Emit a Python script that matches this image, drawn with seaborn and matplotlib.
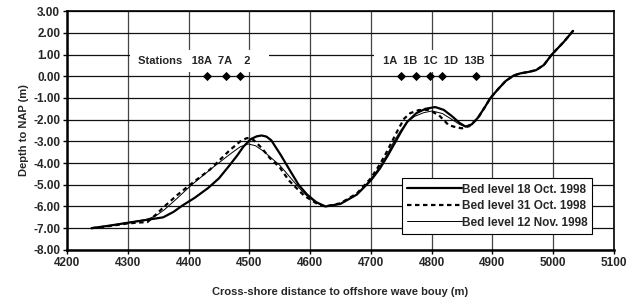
import matplotlib
matplotlib.use("Agg")
import matplotlib.pyplot as plt
import seaborn as sns
import numpy as np

# ---------------- data ----------------
common_x = [4897, 4910, 4922, 4935, 4946, 4960, 4972, 4985, 4998, 5018, 5033]
common_y = [-1.0, -0.58, -0.22, 0.03, 0.13, 0.2, 0.28, 0.52, 1.0, 1.59, 2.09]

oct18_x = [4240, 4270, 4300, 4330, 4358, 4375, 4390, 4410, 4432, 4450, 4466, 4480,
           4490, 4502, 4512, 4520, 4528, 4536, 4551, 4567, 4581, 4595, 4610, 4625,
           4650, 4677, 4700, 4715, 4728, 4740, 4750, 4760, 4775, 4790, 4806, 4820,
           4834, 4846, 4856, 4866, 4876, 4886] + common_x
oct18_y = [-7.0, -6.88, -6.75, -6.62, -6.5, -6.25, -5.95, -5.6, -5.15, -4.7, -4.15, -3.65,
           -3.25, -2.9, -2.77, -2.73, -2.78, -2.95, -3.6, -4.35, -5.0, -5.45, -5.8, -6.0,
           -5.88, -5.45, -4.8, -4.25, -3.65, -3.05, -2.55, -2.1, -1.7, -1.5, -1.42, -1.55,
           -1.85, -2.15, -2.32, -2.22, -1.92, -1.5] + common_y

oct31_x = [4240, 4270, 4300, 4318, 4332, 4345, 4360, 4380, 4400, 4435, 4468, 4485,
           4495, 4500, 4507, 4520, 4534, 4550, 4565, 4590, 4610, 4625, 4650, 4677,
           4700, 4715, 4725, 4735, 4745, 4755, 4765, 4779, 4795, 4812, 4828, 4840,
           4850, 4862, 4876, 4886] + common_x
oct31_y = [-7.0, -6.9, -6.78, -6.74, -6.72, -6.4, -6.0, -5.5, -5.05, -4.3, -3.4, -3.0,
           -2.86, -2.84, -2.94, -3.3, -3.78, -4.2, -4.8, -5.5, -5.85, -6.0, -5.85, -5.4,
           -4.7, -4.05, -3.55, -3.0, -2.45, -1.95, -1.7, -1.56, -1.55, -1.79, -2.25, -2.35,
           -2.4, -2.3, -1.95, -1.5] + common_y

nov12_x = [4240, 4270, 4300, 4330, 4345, 4360, 4380, 4405, 4440, 4470, 4485, 4498,
           4510, 4523, 4550, 4573, 4590, 4610, 4625, 4650, 4677, 4700, 4715, 4728,
           4738, 4748, 4758, 4772, 4787, 4801, 4818, 4834, 4846, 4856, 4866, 4876,
           4886] + common_x
nov12_y = [-7.0, -6.88, -6.74, -6.6, -6.45, -6.15, -5.65, -5.0, -4.2, -3.55, -3.25, -3.12,
           -3.2, -3.45, -4.1, -4.85, -5.4, -5.82, -6.0, -5.88, -5.45, -4.75, -4.15, -3.55,
           -3.0, -2.55, -2.15, -1.85, -1.68, -1.6, -1.72, -2.0, -2.22, -2.33, -2.22, -1.92,
           -1.5] + common_y

series_labels = ["Bed level 18 Oct. 1998", "Bed level 31 Oct. 1998", "Bed level 12 Nov. 1998"]

station_names = ["18A", "7A", "2", "1A", "1B", "1C", "1D", "13B"]
station_x = [4431, 4461, 4484, 4750, 4774, 4798, 4817, 4873]
station_y = [0, 0, 0, 0, 0, 0, 0, 0]

x_ticks = list(range(4200, 5101, 100))
y_ticks = [3, 2, 1, 0, -1, -2, -3, -4, -5, -6, -7, -8]

# ---------------- style ----------------
sns.set_theme(style="white")
plt.rcParams["font.family"] = ["Liberation Sans", "DejaVu Sans"]
plt.rcParams["font.weight"] = "bold"
plt.rcParams["font.size"] = 8

fig = plt.figure(figsize=(6.4, 3.0), dpi=100)
ax = fig.add_axes([0.105, 0.167, 0.854, 0.796])

sns.lineplot(x=oct18_x, y=oct18_y, ax=ax, color="black", lw=1.6, sort=False,
             label=series_labels[0], estimator=None)
sns.lineplot(x=oct31_x, y=oct31_y, ax=ax, color="black", lw=1.6, sort=False,
             label=series_labels[1], estimator=None, linestyle=(0, (2.0, 1.6)))
sns.lineplot(x=nov12_x, y=nov12_y, ax=ax, color="black", lw=0.7, sort=False,
             label=series_labels[2], estimator=None)

sns.scatterplot(x=station_x, y=station_y, ax=ax, color="black", marker="D",
                s=22, edgecolor="black", linewidth=0, zorder=5, legend=False)

ax.text(4312, 0.70, " Stations   " + "  ".join(station_names[:2]) + "    " + station_names[2] + "    ",
        ha="left", va="center", fontsize=8, fontweight="bold",
        bbox=dict(boxstyle="square,pad=0.5", fc="white", ec="none"), zorder=3)
ax.text(4715, 0.70, " " + "  ".join(station_names[3:]),
        ha="left", va="center", fontsize=8, fontweight="bold",
        bbox=dict(boxstyle="square,pad=0.5", fc="white", ec="none"), zorder=3)

ax.set_xlim(4200, 5100)
ax.set_ylim(-8, 3)
ax.set_xticks(x_ticks)
ax.set_yticks(y_ticks)
ax.set_yticklabels([f"{v:.2f}" for v in y_ticks])
ax.set_axisbelow(True)
ax.yaxis.grid(True, color="#111111", lw=0.9)
ax.xaxis.grid(True, color="#444444", lw=0.9)
ax.tick_params(axis="both", which="major", direction="out", length=3, width=1,
               color="black", labelsize=8.5, pad=2, bottom=True, left=True)
for lbl in ax.get_xticklabels() + ax.get_yticklabels():
    lbl.set_fontweight("bold")

for side in ["left", "bottom"]:
    ax.spines[side].set_linewidth(1.8)
    ax.spines[side].set_color("black")
for side in ["top", "right"]:
    ax.spines[side].set_linewidth(1.2)
    ax.spines[side].set_color("black")

ax.set_xlabel("Cross-shore distance to offshore wave bouy (m)", fontsize=8,
              fontweight="bold", labelpad=13)
ax.set_ylabel("Depth to NAP (m)", fontsize=8, fontweight="bold", labelpad=3)

leg = ax.legend(loc="lower right", bbox_to_anchor=(0.961, 0.067), borderaxespad=0,
                frameon=True, fancybox=False, edgecolor="black", framealpha=1,
                handlelength=4.6, handletextpad=0.0, borderpad=0.45, labelspacing=0.38,
                prop={"weight": "bold", "size": 8.5})
leg.get_frame().set_linewidth(0.8)

fig.savefig("out.png", dpi=100)
